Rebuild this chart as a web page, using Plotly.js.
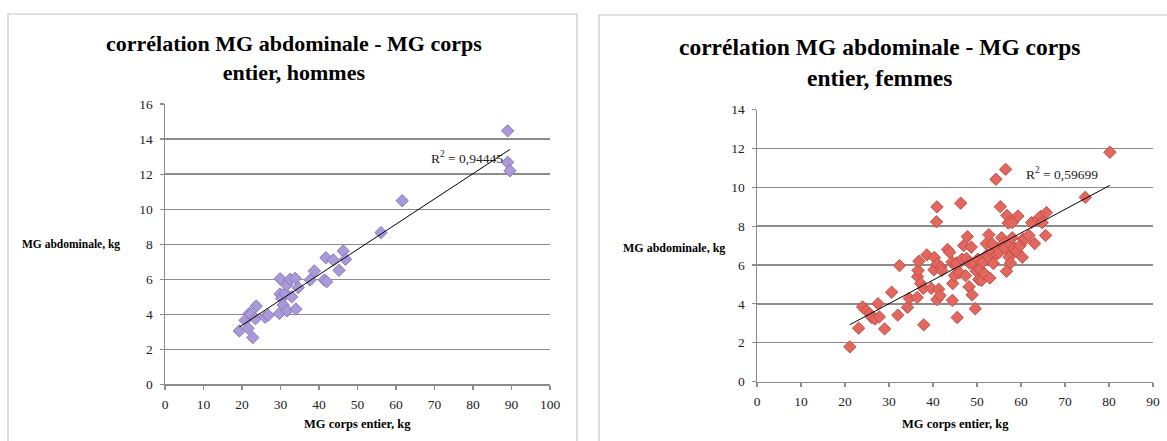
<!DOCTYPE html>
<html>
<head>
<meta charset="utf-8">
<script src="https://cdn.plot.ly/plotly-3.0.1.min.js"></script>
<style>
  html, body { margin: 0; padding: 0; background: #ffffff; }
  #chart { width: 1167px; height: 441px; }
</style>
</head>
<body>
<div id="chart"></div>
<script>
// ---------- DATA ----------
const titleMen = "corrélation MG abdominale - MG corps<br>entier, hommes";
const titleWomen = "corrélation MG abdominale - MG corps<br>entier, femmes";
const xTitle = "MG corps entier, kg";
const yTitle = "MG abdominale, kg";
const r2Men = "R<sup>2</sup> = 0,94445";
const r2Women = "R<sup>2</sup> = 0,59699";

const menX = [19.3, 20.8, 21.6, 21.9, 22.2, 22.8, 23.5, 23.7, 26.0, 26.8,
              29.7, 29.9, 29.9, 30.3, 30.7, 31.2, 31.6, 31.7, 32.5, 32.9,
              33.8, 34.0, 34.6, 37.7, 38.8, 41.4, 42.0, 41.8, 43.7, 45.2,
              46.3, 46.9, 56.1, 61.6, 89.0, 89.0, 89.6];
const menY = [3.05, 3.65, 3.20, 4.05, 4.00, 2.67, 3.75, 4.47, 3.83, 3.95,
              4.05, 5.16, 6.03, 4.91, 4.53, 5.20, 5.67, 4.20, 6.00, 5.00,
              6.05, 4.30, 5.52, 5.96, 6.47, 5.96, 5.86, 7.23, 7.10, 6.51,
              7.61, 7.14, 8.66, 10.48, 14.47, 12.67, 12.19];

const womenX = [21.1, 23.1, 24.0, 24.9, 25.6, 26.1, 26.8, 27.5, 27.8, 29.0,
                30.6, 32.0, 32.4, 34.2, 34.6, 36.4, 36.5, 36.6, 36.8, 37.2,
                37.9, 37.8, 38.6, 39.6, 40.3, 40.2, 41.0, 40.9, 40.8, 40.9,
                41.3, 41.6, 41.8, 42.0, 43.3, 43.8, 44.3, 44.4, 44.5, 44.9,
                45.2, 45.5, 45.3, 46.0, 46.3, 46.6, 47.0, 47.4, 47.8, 47.6,
                48.2, 48.3, 48.7, 48.9, 49.2, 49.6, 49.8, 50.2, 50.4, 50.6,
                51.0, 51.3, 51.7, 52.1, 52.2, 52.6, 52.7, 52.9, 53.4, 53.4,
                53.7, 54.3, 54.5, 54.9, 55.0, 55.3, 55.6, 56.0, 56.3, 56.5,
                56.7, 56.8, 57.1, 57.3, 57.5, 57.6, 57.6, 58.0, 58.0, 58.3,
                59.0, 59.3, 59.8, 60.3, 60.5, 61.0, 61.8, 62.4, 63.1, 63.9,
                64.5, 64.8, 65.6, 65.8, 74.6, 80.2];
const womenY = [1.79, 2.75, 3.84, 3.65, 3.50, 3.30, 3.22, 4.01, 3.33, 2.71,
                4.60, 3.42, 5.97, 3.82, 4.28, 4.33, 5.40, 5.72, 6.19, 5.05,
                2.92, 4.80, 6.52, 4.80, 6.39, 5.75, 6.05, 8.99, 8.22, 4.22,
                4.75, 4.43, 5.90, 5.72, 6.80, 6.65, 6.15, 4.18, 5.05, 5.45,
                5.92, 3.30, 6.10, 5.60, 9.18, 6.30, 7.00, 5.45, 7.46, 6.34,
                4.88, 6.10, 6.92, 4.46, 6.05, 3.75, 5.70, 6.30, 5.25, 5.80,
                5.20, 6.15, 5.55, 7.10, 6.50, 6.40, 7.56, 5.33, 6.65, 7.10,
                6.08, 10.41, 6.55, 6.80, 6.65, 9.00, 7.40, 7.10, 6.86, 10.92,
                5.68, 8.55, 8.16, 6.40, 7.10, 6.10, 7.05, 8.18, 7.40, 6.85,
                6.70, 8.52, 7.00, 6.40, 7.34, 7.35, 7.52, 8.18, 7.10, 8.38,
                8.50, 8.18, 7.52, 8.70, 9.48, 11.80];

const menXTicks = [0, 10, 20, 30, 40, 50, 60, 70, 80, 90, 100];
const menYTicks = [0, 2, 4, 6, 8, 10, 12, 14, 16];
const womenXTicks = [0, 10, 20, 30, 40, 50, 60, 70, 80, 90];
const womenYTicks = [0, 2, 4, 6, 8, 10, 12, 14];

// ---------- HELPERS ----------
const W = 1167, H = 441;
const px = v => v / W;
const py = v => 1 - v / H;

function linfit(xs, ys) {
  const n = xs.length;
  let sx = 0, sy = 0, sxx = 0, sxy = 0;
  for (let i = 0; i < n; i++) { sx += xs[i]; sy += ys[i]; sxx += xs[i]*xs[i]; sxy += xs[i]*ys[i]; }
  const b = (n*sxy - sx*sy) / (n*sxx - sx*sx);
  const a = (sy - b*sx) / n;
  const x0 = Math.min(...xs), x1 = Math.max(...xs);
  return { x: [x0, x1], y: [a + b*x0, a + b*x1] };
}

const fitMen = linfit(menX, menY);
const fitWomen = linfit(womenX, womenY);

const serif = "Liberation Serif";
const gridCol = "#8c8c8c";

const traces = [
  { type: "scatter", mode: "markers", x: menX, y: menY, xaxis: "x", yaxis: "y",
    marker: { symbol: "diamond", size: 9.5, color: "#a999d8", line: { color: "#8a79c0", width: 1 } },
    hoverinfo: "x+y" },
  { type: "scatter", mode: "lines", x: fitMen.x, y: fitMen.y, xaxis: "x", yaxis: "y",
    line: { color: "#000000", width: 1 }, hoverinfo: "skip" },
  { type: "scatter", mode: "markers", x: womenX, y: womenY, xaxis: "x2", yaxis: "y2",
    marker: { symbol: "diamond", size: 9.5, color: "#e2675f", line: { color: "#c44e48", width: 1 } },
    hoverinfo: "x+y" },
  { type: "scatter", mode: "lines", x: fitWomen.x, y: fitWomen.y, xaxis: "x2", yaxis: "y2",
    line: { color: "#000000", width: 1 }, hoverinfo: "skip" }
];

function xAxis(domain, range, ticks, anchor) {
  return {
    domain: domain, range: range, tickvals: ticks, ticktext: ticks.map(String),
    anchor: anchor, showgrid: false, zeroline: false,
    showline: true, linecolor: gridCol, linewidth: 1.5,
    ticks: "outside", ticklen: 4, tickcolor: gridCol, tickwidth: 1.2,
    ticklabelstandoff: 3,
    tickfont: { family: serif, size: 13.5, color: "#222222" }, fixedrange: true
  };
}
function yAxis(domain, range, ticks, anchor) {
  return {
    domain: domain, range: range, tickvals: ticks, ticktext: ticks.map(String),
    anchor: anchor, showgrid: true, gridcolor: gridCol, gridwidth: 1.3, zeroline: false,
    showline: true, linecolor: gridCol, linewidth: 1.5,
    ticks: "outside", ticklen: 4, tickcolor: gridCol, tickwidth: 1.2,
    ticklabelstandoff: 4,
    tickfont: { family: serif, size: 13.5, color: "#222222" }, fixedrange: true
  };
}

const layout = {
  width: W, height: H,
  margin: { l: 0, r: 0, t: 0, b: 0 },
  paper_bgcolor: "#ffffff", plot_bgcolor: "rgba(0,0,0,0)",
  showlegend: false,
  xaxis: xAxis([px(165), px(550)], [0, 100], menXTicks, "y"),
  yaxis: yAxis([py(384.4), py(104)], [0, 16], menYTicks, "x"),
  xaxis2: xAxis([px(757), px(1153)], [0, 90], womenXTicks, "y2"),
  yaxis2: yAxis([py(381.6), py(109.5)], [0, 14], womenYTicks, "x2"),
  shapes: [
    { type: "rect", xref: "paper", yref: "paper", x0: px(8), x1: px(577), y0: py(445), y1: py(14),
      line: { color: "#c4c4c4", width: 1.2 }, fillcolor: "rgba(0,0,0,0)", layer: "below" },
    { type: "rect", xref: "paper", yref: "paper", x0: px(599), x1: px(1172), y0: py(445), y1: py(15),
      line: { color: "#c4c4c4", width: 1.2 }, fillcolor: "rgba(0,0,0,0)", layer: "below" }
  ],
  annotations: [
    { text: titleMen, xref: "paper", yref: "paper", x: px(294), y: py(58), xanchor: "center", yanchor: "middle",
      showarrow: false, align: "center",
      font: { family: serif, size: 22, color: "#000000", weight: "bold" } },
    { text: titleWomen, xref: "paper", yref: "paper", x: px(879), y: py(62), xanchor: "center", yanchor: "middle",
      showarrow: false, align: "center",
      font: { family: serif, size: 23.5, color: "#000000", weight: "bold" } },
    { text: "<b>" + yTitle + "</b>", xref: "paper", yref: "paper", x: px(122), y: py(244), xanchor: "right", yanchor: "middle",
      showarrow: false, font: { family: serif, size: 11.5, color: "#000000" } },
    { text: "<b>" + yTitle + "</b>", xref: "paper", yref: "paper", x: px(727), y: py(248), xanchor: "right", yanchor: "middle",
      showarrow: false, font: { family: serif, size: 12, color: "#000000" } },
    { text: "<b>" + xTitle + "</b>", xref: "paper", yref: "paper", x: px(357), y: py(424), xanchor: "center", yanchor: "middle",
      showarrow: false, font: { family: serif, size: 12.5, color: "#000000" } },
    { text: "<b>" + xTitle + "</b>", xref: "paper", yref: "paper", x: px(955), y: py(424), xanchor: "center", yanchor: "middle",
      showarrow: false, font: { family: serif, size: 12.5, color: "#000000" } },
    { text: r2Men, xref: "paper", yref: "paper", x: px(429), y: py(157), xanchor: "left", yanchor: "middle",
      showarrow: false, font: { family: serif, size: 13.5, color: "#222222" } },
    { text: r2Women, xref: "paper", yref: "paper", x: px(1024), y: py(173), xanchor: "left", yanchor: "middle",
      showarrow: false, font: { family: serif, size: 13.5, color: "#222222" } }
  ]
};

Plotly.newPlot("chart", traces, layout, { displayModeBar: false, staticPlot: true });
</script>
</body>
</html>
